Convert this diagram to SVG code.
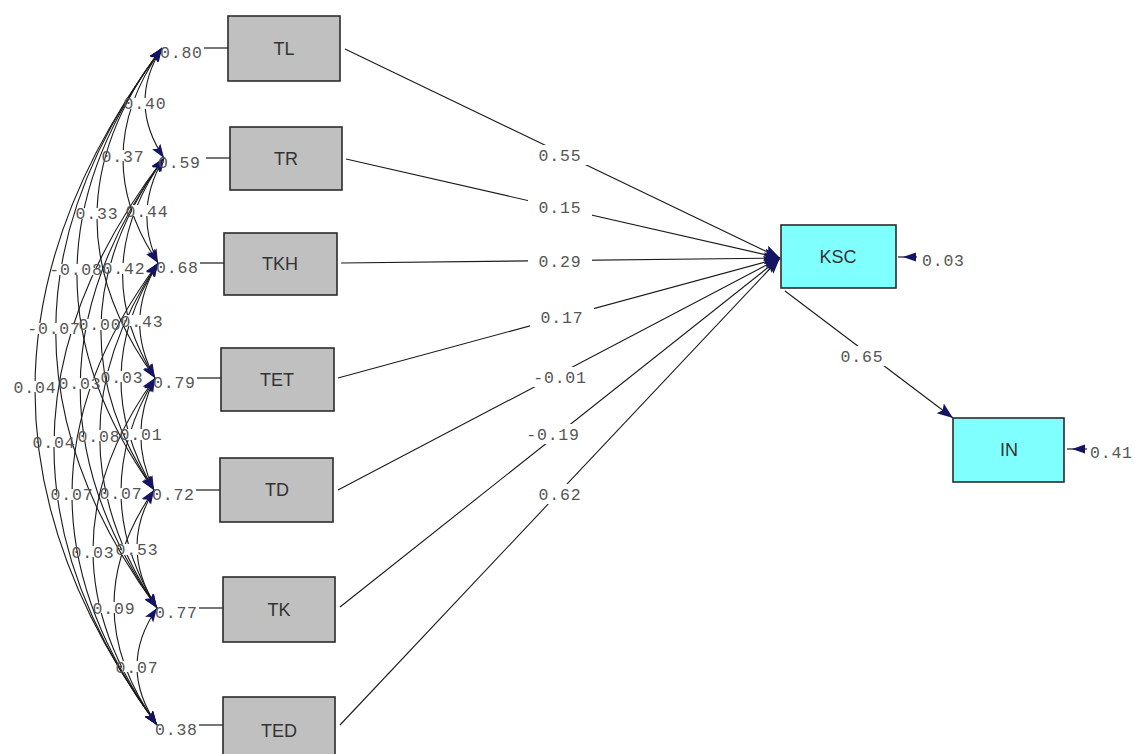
<svg xmlns="http://www.w3.org/2000/svg" width="1139" height="754" viewBox="0 0 1139 754">
<style>
.box{fill:#c0c0c0;stroke:#2b2b2b;stroke-width:1.6}
.cyan{fill:#80ffff;stroke:#2b2b2b;stroke-width:1.6}
.nt{font-family:"Liberation Sans",Arial,sans-serif;font-size:18px;fill:#333;text-anchor:middle}
.num{font-family:"Liberation Mono","Courier New",monospace;font-size:16.5px;letter-spacing:0.8px;fill:#555}
.mid{text-anchor:middle}
.cv{fill:none;stroke:#1a1a1a;stroke-width:1.1;marker-start:url(#ah);marker-end:url(#ah)}
.pl{fill:none;stroke:#1a1a1a;stroke-width:1.1;marker-end:url(#ahb)}
.rl{stroke:#1a1a1a;stroke-width:1.2}
.bg{fill:#fff}
</style>
<defs>
<marker id="ah" markerUnits="userSpaceOnUse" markerWidth="16" markerHeight="12" refX="14" refY="5" orient="auto-start-reverse">
<path d="M0,0 L14,5 L0,10 L3,5 z" fill="#141464"/>
</marker>
<marker id="ahb" markerUnits="userSpaceOnUse" markerWidth="18" markerHeight="14" refX="16" refY="6" orient="auto">
<path d="M0,0 L16,6 L0,12 L3,6 z" fill="#141464"/>
</marker>
</defs>
<rect width="1139" height="754" fill="#fff"/>

<g id="connectors">
<path class="cv" d="M162,48 Q127,103 164,158"/>
<path class="cv" d="M162,48 Q86,155.5 158,263"/>
<path class="cv" d="M162,48 Q35.5,213 155,378"/>
<path class="cv" d="M162,48 Q-4,269 154,490"/>
<path class="cv" d="M162,48 Q-48,328 157,608"/>
<path class="cv" d="M162,48 Q-89.5,386.5 157,725"/>
<path class="cv" d="M164,158 Q133,210.5 158,263"/>
<path class="cv" d="M164,158 Q86,268 155,378"/>
<path class="cv" d="M164,158 Q43,324 154,490"/>
<path class="cv" d="M164,158 Q0,383 157,608"/>
<path class="cv" d="M164,158 Q-52.5,441.5 157,725"/>
<path class="cv" d="M158,263 Q123,320.5 155,378"/>
<path class="cv" d="M158,263 Q86,376.5 154,490"/>
<path class="cv" d="M158,263 Q42,435.5 157,608"/>
<path class="cv" d="M158,263 Q-13.5,494 157,725"/>
<path class="cv" d="M155,378 Q127,434 154,490"/>
<path class="cv" d="M155,378 Q86,493 157,608"/>
<path class="cv" d="M155,378 Q30,551.5 157,725"/>
<path class="cv" d="M154,490 Q118.5,549 157,608"/>
<path class="cv" d="M154,490 Q72.5,607.5 157,725"/>
<path class="cv" d="M157,608 Q117,666.5 157,725"/>
<line class="rl" x1="204" y1="48" x2="228" y2="48"/>
<line class="rl" x1="206" y1="158" x2="230" y2="158"/>
<line class="rl" x1="200" y1="263" x2="224" y2="263"/>
<line class="rl" x1="197" y1="378" x2="221" y2="378"/>
<line class="rl" x1="196" y1="490" x2="220" y2="490"/>
<line class="rl" x1="199" y1="608" x2="223" y2="608"/>
<line class="rl" x1="199" y1="725" x2="223" y2="725"/>
<line class="pl" x1="345" y1="49" x2="780" y2="258"/>
<line class="pl" x1="346" y1="159" x2="780" y2="258"/>
<line class="pl" x1="341" y1="263" x2="780" y2="258"/>
<line class="pl" x1="338" y1="378" x2="780" y2="258"/>
<line class="pl" x1="338" y1="490" x2="780" y2="258"/>
<line class="pl" x1="340" y1="607" x2="780" y2="258"/>
<line class="pl" x1="340" y1="725" x2="780" y2="258"/>
<line class="pl" x1="785" y1="291" x2="953" y2="418"/>
<line class="rl" x1="898" y1="257" x2="917" y2="257"/>
<path d="M903,257 L916,252.5 L916,261.5 z" fill="#141464"/>
<line class="rl" x1="1067" y1="449" x2="1087" y2="449"/>
<path d="M1072,449 L1085,444.5 L1085,453.5 z" fill="#141464"/>

<g class="bg">
<rect x="130" y="98" width="30" height="11"/>
<rect x="108" y="150" width="30" height="11"/>
<rect x="82" y="208" width="30" height="11"/>
<rect x="56" y="264" width="40" height="11"/>
<rect x="34" y="323" width="40" height="11"/>
<rect x="20" y="381" width="30" height="11"/>
<rect x="132" y="205" width="30" height="11"/>
<rect x="109" y="263" width="30" height="11"/>
<rect x="85" y="319" width="30" height="11"/>
<rect x="65" y="378" width="30" height="11"/>
<rect x="39" y="436" width="30" height="11"/>
<rect x="127" y="315" width="30" height="11"/>
<rect x="107" y="371" width="30" height="11"/>
<rect x="84" y="430" width="30" height="11"/>
<rect x="57" y="489" width="30" height="11"/>
<rect x="126" y="429" width="30" height="11"/>
<rect x="106" y="488" width="30" height="11"/>
<rect x="78" y="546" width="30" height="11"/>
<rect x="122" y="544" width="30" height="11"/>
<rect x="99" y="602" width="30" height="11"/>
<rect x="122" y="661" width="30" height="11"/>
<rect x="528" y="145" width="64" height="20"/>
<rect x="528" y="197" width="64" height="20"/>
<rect x="528" y="251" width="64" height="20"/>
<rect x="530" y="307" width="64" height="20"/>
<rect x="524" y="367" width="72" height="20"/>
<rect x="517" y="424" width="72" height="20"/>
<rect x="528" y="484" width="64" height="20"/>
<rect x="834" y="346" width="56" height="20"/>
</g>
</g>

<g id="labels">
<text class="num mid" x="145" y="109">0.40</text>
<text class="num mid" x="123" y="161.5">0.37</text>
<text class="num mid" x="97" y="219">0.33</text>
<text class="num mid" x="76" y="275">-0.08</text>
<text class="num mid" x="54" y="334">-0.07</text>
<text class="num mid" x="35" y="392.5">0.04</text>
<text class="num mid" x="147" y="216.5">0.44</text>
<text class="num mid" x="124" y="274">0.42</text>
<text class="num mid" x="100" y="330">0.00</text>
<text class="num mid" x="80" y="389">0.03</text>
<text class="num mid" x="54" y="447.5">0.04</text>
<text class="num mid" x="142" y="326.5">0.43</text>
<text class="num mid" x="122" y="382.5">0.03</text>
<text class="num mid" x="99" y="441.5">0.08</text>
<text class="num mid" x="72" y="500">0.07</text>
<text class="num mid" x="141" y="440">0.01</text>
<text class="num mid" x="121" y="499">0.07</text>
<text class="num mid" x="93" y="557.5">0.03</text>
<text class="num mid" x="137" y="555">0.53</text>
<text class="num mid" x="114" y="613.5">0.09</text>
<text class="num mid" x="137" y="672.5">0.07</text>

<text class="num" x="160" y="58">0.80</text>
<text class="num" x="158" y="168">0.59</text>
<text class="num" x="156" y="273">0.68</text>
<text class="num" x="153" y="388">0.79</text>
<text class="num" x="152" y="500">0.72</text>
<text class="num" x="155" y="618">0.77</text>
<text class="num" x="155" y="735">0.38</text>

<text class="num mid" x="560" y="161">0.55</text>
<text class="num mid" x="560" y="213">0.15</text>
<text class="num mid" x="560" y="267">0.29</text>
<text class="num mid" x="562" y="323">0.17</text>
<text class="num mid" x="560" y="383">-0.01</text>
<text class="num mid" x="553" y="440">-0.19</text>
<text class="num mid" x="560" y="500">0.62</text>
<text class="num mid" x="862" y="362">0.65</text>
<text class="num" x="922" y="266">0.03</text>
<text class="num" x="1090" y="458">0.41</text>
</g>

<g id="TL"><rect class="box" x="228" y="16" width="112" height="65"/><text class="nt" x="284" y="55">TL</text></g>
<g id="TR"><rect class="box" x="230" y="127" width="112" height="63"/><text class="nt" x="286" y="165">TR</text></g>
<g id="TKH"><rect class="box" x="224" y="233" width="113" height="62"/><text class="nt" x="280" y="270">TKH</text></g>
<g id="TET"><rect class="box" x="221" y="348" width="113" height="63"/><text class="nt" x="277" y="386">TET</text></g>
<g id="TD"><rect class="box" x="220" y="458" width="113" height="64"/><text class="nt" x="277" y="496">TD</text></g>
<g id="TK"><rect class="box" x="223" y="577" width="112" height="65"/><text class="nt" x="279" y="616">TK</text></g>
<g id="TED"><rect class="box" x="223" y="697" width="112" height="65"/><text class="nt" x="279" y="737">TED</text></g>
<g id="KSC"><rect class="cyan" x="781" y="225" width="115" height="63"/><text class="nt" x="838" y="263">KSC</text></g>
<g id="IN"><rect class="cyan" x="953" y="418" width="111" height="64"/><text class="nt" x="1009" y="456">IN</text></g>
</svg>
